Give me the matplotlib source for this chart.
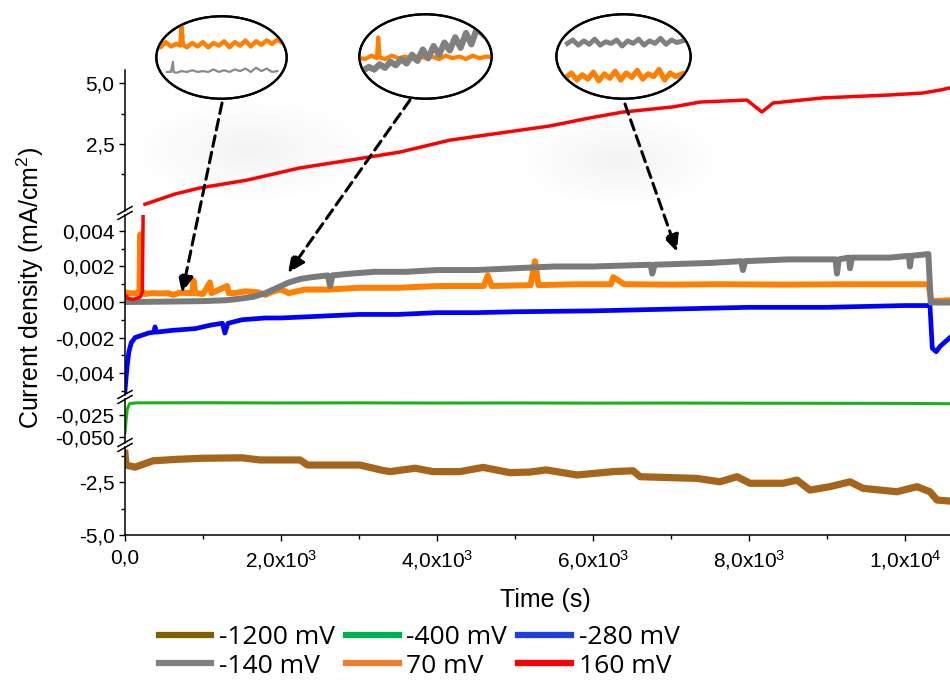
import numpy as np
import matplotlib
matplotlib.use('Agg')
import matplotlib.pyplot as plt
from matplotlib.patches import Ellipse
from matplotlib.lines import Line2D

plt.rcParams['font.family'] = ['Liberation Sans', 'DejaVu Sans']
plt.rcParams['mathtext.default'] = 'regular'

# ---- data (time in s, current density in mA/cm2) ----
red_t = [0, 40, 100, 150, 200, 222, 240, 256, 641, 962, 1564, 2244, 2885, 3526, 4167, 4808,
         5449, 5962, 6385, 7026, 7372, 7974, 8166, 8308, 8949, 9808, 10231, 10449, 10577]
red_j = [0.0004, 0.0002, 0.00015, 0.0002, 0.0003, 0.0006, 0.008, 0.03, 0.45, 0.70, 1.02, 1.52,
         1.84, 2.17, 2.66, 2.95, 3.24, 3.57, 3.81, 4.02, 4.22, 4.30, 3.81, 4.18, 4.39, 4.51,
         4.59, 4.71, 4.80]

orange_t = [0, 50, 100, 150, 185, 195, 205, 250, 350, 450, 550, 620, 700, 860, 880, 900, 1000,
            1090, 1110, 1310, 1330, 1400, 1550, 1700, 1800, 1900, 2000, 2100, 2300, 2600, 3000,
            3500, 4000, 4600, 4650, 4700, 5200, 5256, 5300, 5800, 6230, 6260, 6400, 7000, 7600,
            8500, 9300, 10300, 10340, 10577]
orange_j = [0.00055, 0.0005, 0.00048, 0.0005, 0.0006, 0.0038, 0.0007, 0.00045, 0.0005, 0.00048,
            0.0005, 0.0004, 0.00052, 0.0005, 0.0012, 0.0005, 0.00045, 0.0011, 0.0005, 0.0009,
            0.0005, 0.0005, 0.0006, 0.00055, 0.0004, 0.0006, 0.0007, 0.0005, 0.0007, 0.0007,
            0.0008, 0.0008, 0.0009, 0.0009, 0.0015, 0.0009, 0.00095, 0.0023, 0.00095, 0.001,
            0.001, 0.0014, 0.001, 0.00098, 0.001, 0.00098, 0.001, 0.001, 0.00005, 0.0001]

gray_t = [0, 500, 1000, 1300, 1500, 1650, 1800, 1950, 2100, 2250, 2400, 2600, 2630, 2660, 2900,
          3200, 3600, 4000, 4500, 5000, 5500, 6000, 6740, 6760, 6790, 7500, 7900, 7923, 7950,
          8500, 9110, 9128, 9150, 9280, 9295, 9320, 9800, 10050, 10064, 10080, 10300, 10330,
          10577]
gray_j = [0.0, 0.00002, 0.00005, 0.0001, 0.0002, 0.0003, 0.0005, 0.0008, 0.0011, 0.0013,
          0.0014, 0.0015, 0.0009, 0.0015, 0.0016, 0.0017, 0.0017, 0.0018, 0.0018, 0.0019,
          0.002, 0.002, 0.0021, 0.0016, 0.0021, 0.0022, 0.0023, 0.0018, 0.0023, 0.0024,
          0.0024, 0.0016, 0.0024, 0.0025, 0.0019, 0.0025, 0.0025, 0.0026, 0.002, 0.0026,
          0.0027, -0.00003, -0.00003]

blue_t = [0, 15, 30, 50, 80, 130, 200, 300, 370, 385, 400, 600, 900, 1100, 1250, 1280, 1320,
          1500, 1800, 2000, 2500, 3000, 3500, 4000, 4500, 5000, 6000, 7000, 8000, 9000, 10000,
          10320, 10350, 10400, 10450, 10577]
blue_j = [-0.0050, -0.0042, -0.0035, -0.0028, -0.0023, -0.0020, -0.0019, -0.00175, -0.0017,
          -0.0014, -0.0017, -0.0016, -0.0015, -0.0013, -0.0012, -0.00175, -0.0012, -0.0010,
          -0.0009, -0.0009, -0.0008, -0.0007, -0.0007, -0.0006, -0.0006, -0.00055, -0.0005,
          -0.0004, -0.0003, -0.0003, -0.0002, -0.0002, -0.0026, -0.0028, -0.0025, -0.0020]

green_t = [0, 15, 30, 60, 150, 1000, 2000, 3000, 4000, 5000, 6000, 7000, 8000, 9000, 10000, 10577]
green_j = [-0.045, -0.030, -0.018, -0.012, -0.0112, -0.0111, -0.0113, -0.0112, -0.0114, -0.0113,
           -0.0115, -0.0114, -0.0116, -0.0117, -0.0118, -0.0122]

brown_t = [0, 13, 128, 359, 667, 1000, 1500, 1731, 2244, 2340, 3013, 3300, 3400, 3720, 3949,
           4295, 4590, 4936, 5192, 5400, 5795, 6256, 6513, 6603, 7333, 7628, 7846, 8013, 8436,
           8615, 8782, 9038, 9295, 9462, 9897, 10154, 10320, 10410, 10577]
brown_j = [-1.15, -1.70, -1.80, -1.50, -1.43, -1.38, -1.36, -1.46, -1.46, -1.70, -1.70, -1.95,
           -2.01, -1.85, -2.01, -2.01, -1.81, -2.06, -2.03, -1.93, -2.17, -2.01, -1.97, -2.25,
           -2.33, -2.49, -2.25, -2.56, -2.56, -2.41, -2.88, -2.72, -2.49, -2.80, -2.96, -2.72,
           -2.96, -3.35, -3.40]

legend_labels = ['-1200 mV', '-400 mV', '-280 mV', '-140 mV', '70 mV', '160 mV']
legend_colors = ['#7f6000', '#00b050', '#1f3fe0', '#808080', '#ed7d31', '#ff0000']

top_ticks, top_labels = [2.5, 5.0], ['2,5', '5,0']
mid_ticks = [-0.004, -0.002, 0.0, 0.002, 0.004]
mid_labels = ['-0,004', '-0,002', '0,000', '0,002', '0,004']
small_ticks, small_labels = [-0.025, -0.050], ['-0,025', '-0,050']
bot_ticks, bot_labels = [-2.5, -5.0], ['-2,5', '-5,0']
x_ticks = [0, 2000, 4000, 6000, 8000, 10000]
x_labels = ['0,0', '2,0x10$^3$', '4,0x10$^3$', '6,0x10$^3$', '8,0x10$^3$', '1,0x10$^4$']

# zoomed views inside the ellipses (axes units)
ins1_or_x = [0.00, 0.04, 0.08, 0.12, 0.16, 0.19, 0.20, 0.21, 0.24, 0.28, 0.32, 0.36, 0.40, 0.44,
             0.48, 0.52, 0.56, 0.60, 0.64, 0.68, 0.72, 0.76, 0.80, 0.84, 0.88, 0.92, 0.96, 1.00]
ins1_or_y = [0.66, 0.62, 0.68, 0.63, 0.66, 0.64, 0.86, 0.65, 0.62, 0.67, 0.63, 0.68, 0.62, 0.67,
             0.64, 0.69, 0.62, 0.68, 0.64, 0.70, 0.63, 0.69, 0.65, 0.70, 0.66, 0.71, 0.67, 0.70]
ins1_gr_x = [0.09, 0.12, 0.135, 0.14, 0.16, 0.20, 0.24, 0.28, 0.32, 0.36, 0.40, 0.44, 0.48, 0.52,
             0.56, 0.60, 0.64, 0.68, 0.72, 0.76, 0.80, 0.84, 0.88, 0.92]
ins1_gr_y = [0.33, 0.33, 0.45, 0.33, 0.32, 0.34, 0.33, 0.35, 0.33, 0.34, 0.33, 0.36, 0.33, 0.35,
             0.33, 0.36, 0.34, 0.37, 0.33, 0.38, 0.34, 0.37, 0.33, 0.34]

ins2_or_x = [0.00, 0.05, 0.10, 0.14, 0.15, 0.16, 0.20, 0.25, 0.30, 0.35, 0.40, 0.45, 0.50, 0.55,
             0.60, 0.65, 0.70, 0.75, 0.80, 0.85, 0.90, 0.95, 1.00]
ins2_or_y = [0.49, 0.47, 0.51, 0.48, 0.72, 0.49, 0.47, 0.51, 0.48, 0.50, 0.47, 0.51, 0.48, 0.50,
             0.47, 0.51, 0.48, 0.50, 0.47, 0.51, 0.48, 0.50, 0.49]
ins2_gr_x = [0.04, 0.08, 0.12, 0.16, 0.20, 0.24, 0.28, 0.32, 0.36, 0.40, 0.44, 0.48, 0.52, 0.56,
             0.60, 0.64, 0.68, 0.72, 0.76, 0.80, 0.84, 0.88, 0.93]
ins2_gr_y = [0.34, 0.38, 0.35, 0.41, 0.37, 0.44, 0.40, 0.47, 0.42, 0.52, 0.45, 0.58, 0.48, 0.62,
             0.52, 0.66, 0.57, 0.72, 0.60, 0.77, 0.64, 0.82, 0.75]

ins3_gr_x = [0.09, 0.13, 0.17, 0.21, 0.25, 0.29, 0.33, 0.37, 0.41, 0.45, 0.49, 0.53, 0.57, 0.61,
             0.65, 0.69, 0.73, 0.77, 0.81, 0.85, 0.89, 0.93]
ins3_gr_y = [0.65, 0.69, 0.63, 0.68, 0.64, 0.70, 0.63, 0.67, 0.65, 0.69, 0.62, 0.68, 0.65, 0.70,
             0.63, 0.68, 0.65, 0.71, 0.64, 0.69, 0.66, 0.68]
ins3_or_x = [0.08, 0.12, 0.16, 0.20, 0.24, 0.28, 0.32, 0.36, 0.40, 0.44, 0.48, 0.52, 0.56, 0.60,
             0.64, 0.68, 0.72, 0.76, 0.80, 0.84, 0.88, 0.93]
ins3_or_y = [0.26, 0.31, 0.23, 0.29, 0.24, 0.32, 0.22, 0.30, 0.25, 0.33, 0.23, 0.31, 0.26, 0.34,
             0.24, 0.30, 0.27, 0.35, 0.23, 0.31, 0.27, 0.30]

W, H = 950, 685


def fx(px):
    return px / W


def fy(py):
    return 1 - py / H


def add_panel(y0, y1, ylim):
    ax = fig.add_axes([fx(125), fy(y1), 1 - fx(125), (y1 - y0) / H])
    ax.set_facecolor('none')
    ax.set_xlim(0, 10577)
    ax.set_ylim(*ylim)
    for s in ['top', 'right', 'bottom']:
        ax.spines[s].set_visible(False)
    ax.spines['left'].set_linewidth(1.1)
    ax.tick_params(axis='y', which='major', direction='out', length=4.5, width=1, labelsize=15, pad=3)
    ax.tick_params(axis='y', which='minor', direction='out', length=2.6, width=1)
    ax.tick_params(axis='x', which='both', bottom=False, labelbottom=False)
    return ax


fig = plt.figure(figsize=(9.5, 6.85), dpi=100)

# faint grey haze behind the zoom bubbles
for cx, cy, bw, bh in [(250, 150, 230, 100), (620, 160, 200, 90)]:
    for k in range(12):
        s = 1 - k / 12
        fig.add_artist(Ellipse((fx(cx), fy(cy)), bw * s / W, bh * s / H, transform=fig.transFigure,
                               facecolor='#a0a0a0', edgecolor='none', alpha=0.006, zorder=-5))

ax_top = add_panel(70, 211, (-0.246, 5.533))
ax_mid = add_panel(215, 395, (-0.005239, 0.004901))
ax_small = add_panel(399, 443, (-0.05682, -0.006818))
ax_bot = add_panel(447, 535, (-5.0, -0.849))

# curves
red_top = np.where(np.array(red_j) > 0.01, red_j, np.nan)
ax_top.plot(red_t, red_top, color='#ff0000', lw=2.5)

ax_mid.plot(blue_t, blue_j, color='#0000ff', lw=3.4)
ax_mid.plot(orange_t, orange_j, color='#ff8000', lw=4.3)
ax_mid.plot(gray_t, gray_j, color='#7a7a7a', lw=4.3)
ax_mid.plot(red_t, red_j, color='#ff0000', lw=2.5)

ax_small.plot(green_t, green_j, color='#19b319', lw=2.2)
ax_bot.plot(brown_t, brown_j, color='#a5661c', lw=5.2)

# ticks
ax_top.set_yticks(top_ticks)
ax_top.set_yticklabels(top_labels)
ax_top.set_yticks([1.25, 3.75], minor=True)
ax_mid.set_yticks(mid_ticks)
ax_mid.set_yticklabels(mid_labels)
ax_mid.set_yticks([-0.005, -0.003, -0.001, 0.001, 0.003], minor=True)
ax_small.set_yticks(small_ticks)
ax_small.set_yticklabels(small_labels)
ax_bot.set_yticks(bot_ticks)
ax_bot.set_yticklabels(bot_labels)
ax_bot.set_yticks([-1.25, -3.75], minor=True)

ax_bot.spines['bottom'].set_visible(True)
ax_bot.spines['bottom'].set_linewidth(1.1)
ax_bot.tick_params(axis='x', which='both', bottom=True, labelbottom=True)
ax_bot.set_xticks(x_ticks)
ax_bot.set_xticklabels(x_labels)
ax_bot.set_xticks([1000, 3000, 5000, 7000, 9000], minor=True)
ax_bot.tick_params(axis='x', which='major', direction='out', length=4.5, width=1, labelsize=15, pad=5)
ax_bot.tick_params(axis='x', which='minor', direction='out', length=2.6, width=1)

# axis break marks on the left spine
for yb in [213, 397, 445]:
    for ym in [yb - 2.5, yb + 2.5]:
        fig.add_artist(Line2D([fx(118), fx(132)], [fy(ym + 4), fy(ym - 4)],
                              transform=fig.transFigure, color='black', lw=1.1))

fig.text(fx(30), fy(288), 'Current density (mA/cm$^2$)', rotation=90, ha='center', va='center',
         fontsize=18)
fig.text(fx(545), fy(600), 'Time (s)', ha='center', va='center', fontsize=18)

# zoom ellipses
insets = [
    ((155, 15, 133, 85), [(ins1_or_x, ins1_or_y, '#ff8000', 3.2), (ins1_gr_x, ins1_gr_y, '#8a8a8a', 1.6)]),
    ((358, 13, 135, 87), [(ins2_or_x, ins2_or_y, '#ff8000', 3.0), (ins2_gr_x, ins2_gr_y, '#808080', 4.5)]),
    ((555, 13, 137, 87), [(ins3_gr_x, ins3_gr_y, '#808080', 3.5), (ins3_or_x, ins3_or_y, '#ff8000', 3.8)]),
]
for (x0, y0, w, h), lines in insets:
    ax_in = fig.add_axes([fx(x0), fy(y0 + h), w / W, h / H])
    ax_in.set_xlim(0, 1)
    ax_in.set_ylim(0, 1)
    ax_in.axis('off')
    ell = Ellipse((0.5, 0.5), 0.98, 0.97, transform=ax_in.transAxes, facecolor='white',
                  edgecolor='black', lw=1.6, zorder=1)
    ax_in.add_patch(ell)
    for xs, ys, c, lw in lines:
        ln, = ax_in.plot(xs, ys, color=c, lw=lw, zorder=2)
        ln.set_clip_path(ell)
    edge = Ellipse((0.5, 0.5), 0.98, 0.97, transform=ax_in.transAxes, fill=False,
                   edgecolor='black', lw=1.6, zorder=3)
    ax_in.add_patch(edge)

# dashed arrows from the ellipses to the curves
arrows = [((731, 0.00051), (222, 103)), ((2090, 0.00163), (410, 100)), ((7077, 0.00282), (625, 104))]
for (t, j), (px, py) in arrows:
    ax_mid.annotate('', xy=(t, j), xycoords='data', xytext=(fx(px), fy(py)),
                    textcoords='figure fraction', annotation_clip=False,
                    arrowprops=dict(arrowstyle='-|>,head_length=1.0,head_width=0.45', lw=2.2,
                                    ls=(0, (3.5, 2)), color='black', shrinkA=0, shrinkB=0))

# legend
order = [0, 3, 1, 4, 2, 5]
handles = [Line2D([], [], color=legend_colors[i], lw=4.5) for i in order]
fig.legend(handles, [legend_labels[i] for i in order], ncol=3, loc='center',
           bbox_to_anchor=(fx(419), fy(652)), frameon=False,
           prop={'family': 'Open Sans', 'size': 19}, handlelength=2.0, handletextpad=0.3,
           columnspacing=0.4, labelspacing=0.12, borderpad=0)

fig.savefig('out.png', dpi=100)
